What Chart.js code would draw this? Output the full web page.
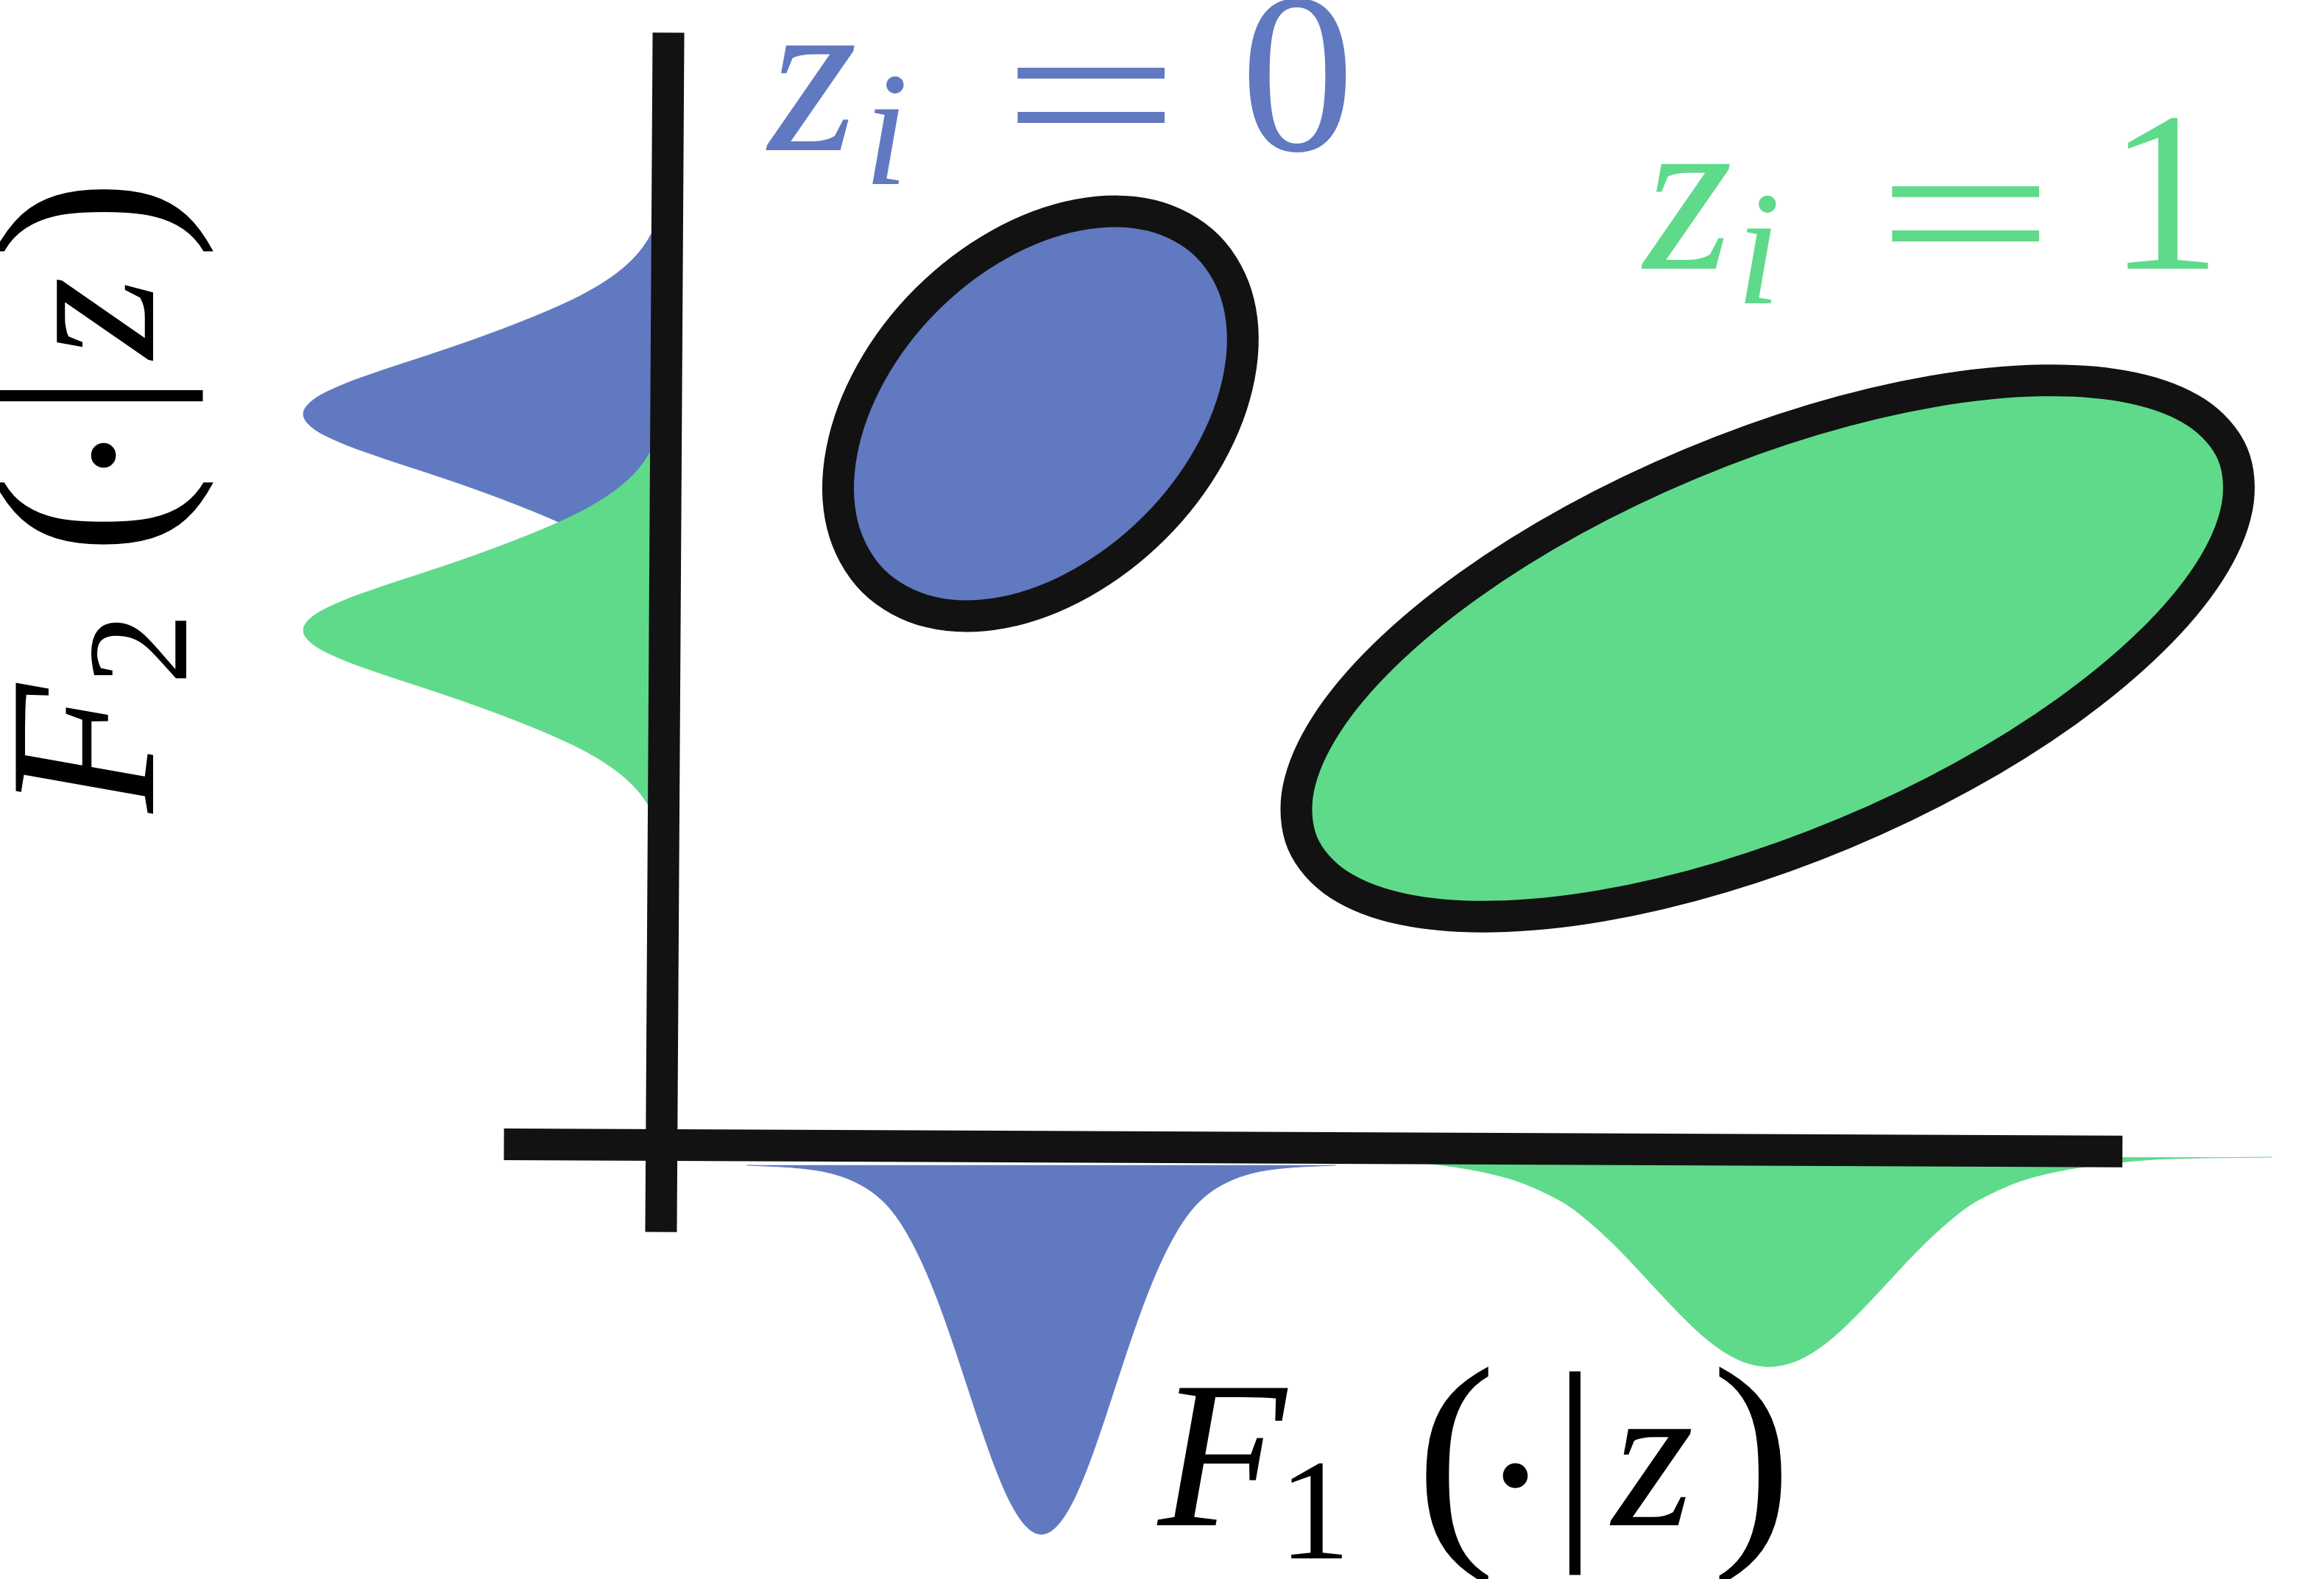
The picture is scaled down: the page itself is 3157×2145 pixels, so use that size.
<!DOCTYPE html>
<html>
<head>
<meta charset="utf-8">
<title>mixture sketch</title>
<script src="https://cdn.jsdelivr.net/npm/chart.js@4.4.0/dist/chart.umd.min.js"></script>
<style>
    html, body { margin: 0; padding: 0; background: #fff; overflow: hidden; }
    #wrap { position: relative; width: 3157px; height: 2145px; overflow: hidden; background: #fff; }
    #fig { position: absolute; left: 0; top: 0; }
    .lab { position: absolute; left: 0; top: 0; width: 0; height: 0; font-family: "Liberation Serif", "DejaVu Serif", serif; }
    .lab span { position: absolute; line-height: 1; white-space: nowrap; }
</style>
</head>
<body>
<div id="wrap">
    <canvas id="fig" width="3157" height="2145"></canvas>
</div>
<script>
"use strict";

// everything is traced in the frame of the reference as shown (1568 x 1065, y down)
var frameW = 1568;
var frameH = 1065;

// the two thick axis strokes
var vAxisX = [451, 446];
var vAxisY = [22, 831];
var hAxisX = [340, 1432];
var hAxisY = [771.8, 776.6];

// F2(.|z) densities, left of the vertical axis (traced top to bottom)
var leftBlueX = [446, 443.25, 438.8, 431.9, 422.25, 409.1, 392.0, 370.6, 346.0, 319.1, 289.9, 259.5, 231.8, 211.9, 204.7,
    211.9, 231.8, 259.5, 289.9, 319.1, 346.0, 370.6, 392.0, 409.1, 422.25, 431.9, 438.8, 443.25, 446];
var leftBlueY = [139.3, 149.3, 159.0, 169.3, 179.3, 189.3, 199.3, 209.3, 219.3, 229.3, 239.3, 249.3, 259.3, 269.3, 279.3,
    289.3, 299.3, 309.3, 319.3, 329.3, 339.3, 349.3, 359.3, 369.3, 379.3, 389.3, 399.6, 409.3, 419.3];
var leftGreenX = [446, 443.25, 438.8, 431.9, 422.25, 409.1, 392.0, 370.6, 346.0, 319.1, 289.9, 259.5, 231.8, 211.9, 204.7,
    211.9, 231.8, 259.5, 289.9, 319.1, 346.0, 370.6, 392.0, 409.1, 422.25, 431.9, 438.8, 443.25, 446];
var leftGreenY = [285.1, 295.1, 304.8, 315.1, 325.1, 335.1, 345.1, 355.1, 365.1, 375.1, 385.1, 395.1, 405.1, 415.1, 425.1,
    435.1, 445.1, 455.1, 465.1, 475.1, 485.1, 495.1, 505.1, 515.1, 525.1, 535.1, 545.4, 555.1, 565.1];

// F1(.|z) densities, under the horizontal axis (traced left to right)
var lowBlueX = [504, 540.6, 560.6, 576.6, 590.6, 602.6, 612.6, 622.6, 632.6, 642.6, 652.6, 662.6, 672.6, 682.6, 692.6, 702.6,
    712.6, 722.6, 732.6, 742.6, 752.6, 762.6, 772.6, 782.6, 792.6, 802.6, 814.6, 828.6, 844.6, 864.6, 901.2];
var lowBlueY = [785.9, 788.0, 791.3, 797.0, 805.6, 817.7, 832.9, 852.6, 876.7, 904.6, 934.7, 965.0, 992.7, 1015.1, 1029.7, 1034.8,
    1029.7, 1015.1, 992.7, 965.0, 934.7, 904.6, 876.7, 852.6, 832.9, 817.7, 805.6, 797.0, 791.3, 788.0, 785.9];
var lowGreenX = [853.8, 893.4, 933.4, 968.4, 998.4, 1023.4, 1043.4, 1058.4, 1073.4, 1088.4, 1103.4, 1118.4, 1133.4, 1148.4,
    1163.4, 1178.4, 1193.4, 1208.4, 1223.4, 1238.4, 1253.4, 1268.4, 1283.4, 1298.4, 1313.4, 1328.4, 1343.4, 1363.4,
    1388.4, 1418.4, 1453.4, 1493.4, 1533.0];
var lowGreenY = [780.5, 780.9, 782.0, 785.3, 790.0, 796.5, 805.0, 813.3, 825.1, 838.9, 854.3, 870.5, 886.3, 900.6,
    911.9, 919.2, 921.7, 919.2, 911.9, 900.6, 886.3, 870.5, 854.3, 838.9, 825.1, 813.3, 805.0, 796.5,
    790.0, 785.3, 782.0, 780.9, 780.5];

// the two clusters, outline along the middle of the black ring;
// one point is repeated at each end so the ring closes without a corner
var blueOvalX = [776.9, 814.9, 835.7, 836.1, 816.2, 778.9, 729.8, 676.6, 627.2, 589.2, 568.3, 567.9, 587.8,
    625.1, 674.2, 727.5, 776.9, 814.9, 835.7];
var blueOvalY = [145.3, 166.2, 204.2, 253.6, 306.8, 355.9, 393.2, 413.2, 412.7, 391.9, 353.9, 304.5, 251.2,
    202.1, 164.8, 144.9, 145.3, 166.2, 204.2];
var greenOvalX = [1482.2, 1506.4, 1509.2, 1490.4, 1451.3, 1394.6, 1324.1, 1244.7, 1161.7, 1080.8, 1007.5, 946.9, 903.0,
    878.8, 876.0, 894.8, 933.9, 990.6, 1061.1, 1140.5, 1223.5, 1304.4, 1377.7, 1438.3, 1482.2, 1506.4, 1509.2];
var greenOvalY = [278.4, 306.2, 342.9, 386.1, 432.7, 479.7, 523.8, 562.0, 591.7, 610.9, 618.2, 613.3, 596.4,
    568.6, 531.9, 488.7, 442.1, 395.1, 351.0, 312.9, 283.1, 263.9, 256.6, 261.5, 278.4, 306.2, 342.9];

// label texts
var zeroLabel = ["z", "i", "=", "0"];
var oneLabel = ["z", "i", "=", "1"];
var f1Label = ["F", "1", "(", "\u00b7", "|", "z", ")"];
var f2Label = ["F", "2", "(", "\u00b7", "|", "z", ")"];

var blue = "#6079c0";
var green = "#5fda8a";
var ink = "#121212";

function toPoints(xs, ys) {
    var pts = [];
    for (var i = 0; i < xs.length; i++) {
        pts.push({ x: xs[i], y: ys[i] });
    }
    return pts;
}

// filled density blob, no outline; runAxis is the axis the curve is monotone along
function blob(xs, ys, colour, order, runAxis) {
    return {
        data: toPoints(xs, ys),
        indexAxis: runAxis,
        fill: "shape",
        backgroundColor: colour,
        borderColor: colour,
        borderWidth: 1,
        cubicInterpolationMode: "monotone",
        pointRadius: 0,
        order: order
    };
}

// filled oval with the thick black ring
function oval(xs, ys, colour, order) {
    var last = xs.length - 1;
    return {
        data: toPoints(xs, ys),
        fill: "shape",
        backgroundColor: colour,
        borderColor: ink,
        borderWidth: 43,
        borderCapStyle: "round",
        borderJoinStyle: "round",
        tension: 0.34,
        pointRadius: 0,
        order: order,
        // the wrap-around pieces only shape the curve, they are not stroked
        segment: {
            borderColor: function(ctx) {
                if (ctx.p0DataIndex === 0 || ctx.p1DataIndex === last) return "rgba(0,0,0,0)";
                return undefined;
            }
        }
    };
}

function stroke(xs, ys, order) {
    return {
        data: toPoints(xs, ys),
        fill: false,
        borderColor: ink,
        borderWidth: 43,
        borderCapStyle: "butt",
        tension: 0,
        pointRadius: 0,
        order: order
    };
}

new Chart(document.getElementById("fig"), {
    type: "line",
    data: {
        datasets: [
            stroke(vAxisX, vAxisY, 0),
            stroke(hAxisX, hAxisY, 0),
            oval(blueOvalX, blueOvalY, blue, 1),
            oval(greenOvalX, greenOvalY, green, 1),
            blob(leftGreenX, leftGreenY, green, 2, "y"),
            blob(leftBlueX, leftBlueY, blue, 3, "y"),
            blob(lowBlueX, lowBlueY, blue, 3, "x"),
            blob(lowGreenX, lowGreenY, green, 3, "x")
        ]
    },
    options: {
        responsive: false,
        animation: false,
        events: [],
        layout: { padding: 0 },
        plugins: {
            legend: { display: false },
            tooltip: { enabled: false },
            title: { display: false }
        },
        scales: {
            x: { type: "linear", min: 0, max: frameW, display: false },
            y: { type: "linear", min: 0, max: frameH, reverse: true, display: false }
        }
    }
});

// ---- math labels as real text ----
var wrap = document.getElementById("wrap");

// baseline sits 0.8375em below the top of a line-height:1 box in Liberation Serif
function putText(box, txt, left, base, size, italic) {
    var s = document.createElement("span");
    s.textContent = txt;
    s.style.left = left + "px";
    s.style.top = (base - 0.8375 * size) + "px";
    s.style.fontSize = size + "px";
    if (italic) s.style.fontStyle = "italic";
    box.appendChild(s);
    return s;
}

function makeBox(colour, left, top, rotate) {
    var d = document.createElement("div");
    d.className = "lab";
    d.style.color = colour;
    d.style.left = left + "px";
    d.style.top = top + "px";
    if (rotate) {
        d.style.transformOrigin = "0 0";
        d.style.transform = "rotate(" + rotate + "deg)";
    }
    wrap.appendChild(d);
    return d;
}

// a wide "=" like the TeX one
function putEquals(box, txt, left, base) {
    var s = putText(box, txt, left, base, 300, false);
    s.style.transformOrigin = "0 50%";
    s.style.transform = "scaleX(1.43)";
}

// z_i = 0 (page pixels)
var b0 = makeBox(blue, 0, 0, 0);
putText(b0, zeroLabel[0], 1044, 205, 310, true);
putText(b0, zeroLabel[1], 1173, 250, 220, true);
putEquals(b0, zeroLabel[2], 1361, 229);
putText(b0, zeroLabel[3], 1685, 205, 310, false);

// z_i = 1
var b1 = makeBox(green, 0, 0, 0);
putText(b1, oneLabel[0], 2233, 366, 310, true);
putText(b1, oneLabel[1], 2358, 412, 220, true);
putEquals(b1, oneLabel[2], 2549, 390);
putText(b1, oneLabel[3], 2863, 366, 310, false);

// F_k(.|z), laid out from the left ink edge of F on its baseline
function densityLabel(box, parts) {
    putText(box, parts[0], 4, 0, 285, true);
    putText(box, parts[1], parts[1] === "1" ? 168 : 178, 44, 195, false);
    putText(box, parts[2], 354, 12, 328, false);
    putText(box, parts[3], 442, 27, 285, false);
    putText(box, parts[4], 540, 2, 304, false);
    putText(box, parts[5], 621, 0, 285, true);
    putText(box, parts[6], 756, 12, 328, false);
}

densityLabel(makeBox("#000", 1569, 2073, 0), f1Label);
densityLabel(makeBox("#000", 209, 1108, -90), f2Label);
</script>
</body>
</html>
